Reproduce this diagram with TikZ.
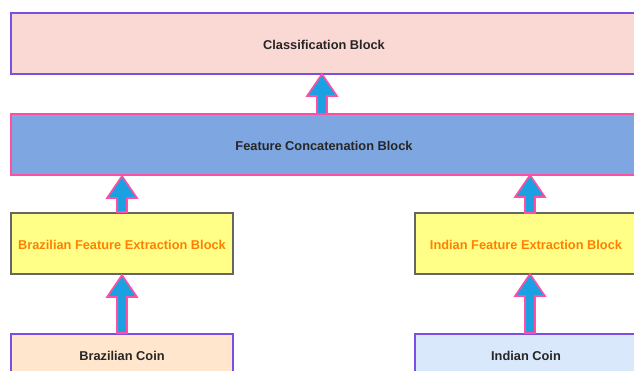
\documentclass[tikz,border=0pt]{standalone}
\usepackage{fontspec}
\setmainfont{Liberation Sans}
\usetikzlibrary{calc}
\definecolor{violetb}{HTML}{7A4FE3}
\definecolor{pinkb}{HTML}{FF4FA3}
\definecolor{classfill}{HTML}{FAD9D5}
\definecolor{concfill}{HTML}{7EA6E0}
\definecolor{featfill}{HTML}{FFFF88}
\definecolor{featline}{HTML}{666666}
\definecolor{feattext}{HTML}{FF8000}
\definecolor{brfill}{HTML}{FFE6CC}
\definecolor{infill}{HTML}{DAE8FC}
\definecolor{arrfill}{HTML}{1BA1E2}
\tikzset{
  blockbox/.style={draw, rectangle, line width=2pt, inner sep=0pt, font=\bfseries\fontsize{12.8}{15}\selectfont, text=black!85, text height=11pt, text depth=0pt},
  classbox/.style={blockbox, draw=violetb, fill=classfill, minimum width=640pt, minimum height=61pt},
  concbox/.style={blockbox, draw=pinkb, fill=concfill, minimum width=640pt, minimum height=61pt},
  featbox/.style={blockbox, draw=featline, fill=featfill, text=feattext, minimum width=222pt, minimum height=61pt},
  coinbox/.style={blockbox, draw=violetb, minimum width=222pt, minimum height=84pt, anchor=north, text depth=41pt, text height=9pt},
  barrow/.style={draw=pinkb, fill=arrfill, line width=1.6pt, line join=miter}
}
\newcommand\blkarrow[2]{%
  \path[barrow] let \p1=(#1), \p2=(#2) in
    ({\x1-5pt},{\y1}) -- ({\x1-5pt},{\y2-22pt}) -- ({\x1-15pt},{\y2-22pt}) --
    ({\x1},{\y2}) -- ({\x1+15pt},{\y2-22pt}) -- ({\x1+5pt},{\y2-22pt}) --
    ({\x1+5pt},{\y1}) -- cycle;}
\begin{document}
\begin{tikzpicture}[x=1pt,y=-1pt]
\useasboundingbox (0,0) rectangle (634,370);
\clip (0,0) rectangle (634,370);
\fill[white] (0,0) rectangle (634,370);
\node[classbox] (class) at (331,43.5) {};
\node[font=\bfseries\fontsize{12.8}{15}\selectfont, text=black!85, text height=11pt, text depth=0pt, inner sep=0pt] (classtxt) at (324,43.5) {Classification Block};
\node[concbox] (conc) at (331,144.5) {};
\node[font=\bfseries\fontsize{12.8}{15}\selectfont, text=black!85, text height=11pt, text depth=0pt, inner sep=0pt] (conctxt) at (324,144.5) {Feature Concatenation Block};
\node[featbox] (bfe) at (122,243.5) {Brazilian Feature Extraction Block};
\node[featbox] (ife) at (526,243.5) {Indian Feature Extraction Block};
\node[coinbox, fill=brfill] (bcoin) at (122,333) {Brazilian Coin};
\node[coinbox, fill=infill] (icoin) at (526,333) {Indian Coin};
\coordinate (a1s) at (322,114);
\coordinate (a1e) at (322,74);
\coordinate (a4s) at (530,333);
\coordinate (a4e) at (530,274);
\coordinate (a3s) at (530,213);
\coordinate (a3e) at (530,175);
\blkarrow{a1s}{a1e}
\blkarrow{bfe.north}{bfe.north |- conc.south}
\blkarrow{bcoin.north}{bfe.south}
\blkarrow{a3s}{a3e}
\blkarrow{a4s}{a4e}
\end{tikzpicture}
\end{document}
